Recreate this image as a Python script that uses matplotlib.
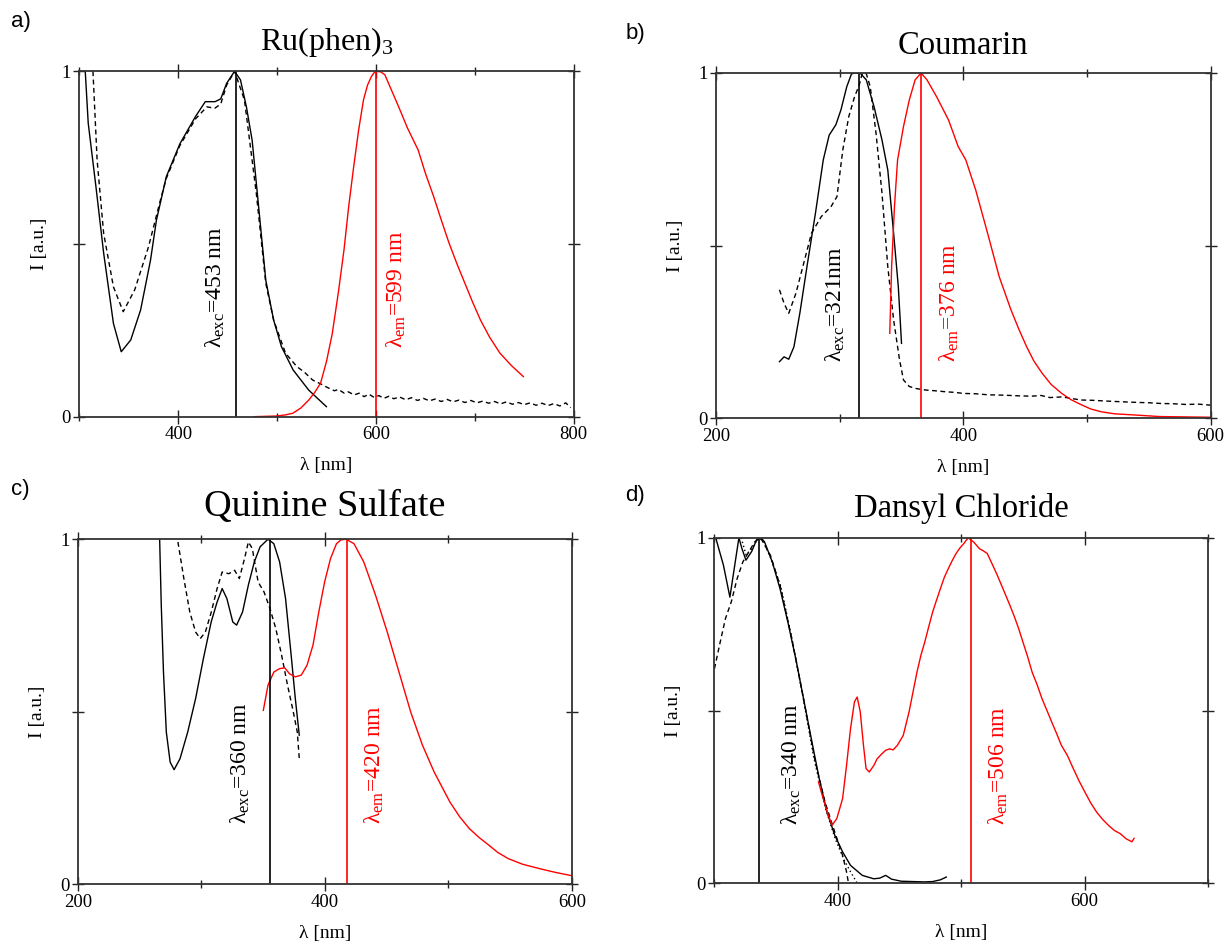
import matplotlib
matplotlib.use('Agg')
import matplotlib.pyplot as plt
from matplotlib.ticker import MultipleLocator

plt.rcParams['font.family'] = ['Liberation Serif', 'DejaVu Serif']
plt.rcParams['mathtext.fontset'] = 'custom'
plt.rcParams['mathtext.rm'] = 'Liberation Serif'
plt.rcParams['mathtext.default'] = 'regular'

# ---- a) Ru(phen)3 ----
a_exc_x = [306, 309, 316.8, 324.6, 334.5, 342.4, 352, 362, 372, 378, 388, 401.7, 417.5, 427.4,
           437.3, 443, 449, 457, 463, 469, 474.8, 480.7, 488.6, 496.5, 504.4, 516.3, 532, 549.9]
a_exc_y = [1.0, 0.85, 0.666, 0.474, 0.27, 0.188, 0.222, 0.309, 0.453, 0.569, 0.695, 0.79, 0.869, 0.912,
           0.912, 0.92, 0.965, 1.0, 0.975, 0.897, 0.80, 0.627, 0.395, 0.28, 0.203, 0.135, 0.077, 0.029]
a_abs_x = [313.8, 318, 324.6, 334.5, 344.4, 356, 370, 382, 388, 401.7, 417.5, 429, 437, 443, 449, 457,
           467, 479, 488.6, 496.5, 508.5, 520, 528, 536, 544, 552, 558, 562, 568, 572, 578, 583, 588,
           593, 598, 603, 608, 613, 618, 624, 630, 636, 642, 648, 654, 660, 666, 672, 678, 684, 690,
           696, 702, 708, 714, 720, 726, 732, 738, 744, 750, 756, 762, 768, 774, 780, 786, 792, 797]
a_abs_y = [1.0, 0.743, 0.531, 0.376, 0.304, 0.367, 0.492, 0.627, 0.69, 0.785, 0.862, 0.897, 0.893, 0.905,
           0.96, 1.0, 0.917, 0.647, 0.386, 0.28, 0.184, 0.145, 0.128, 0.106, 0.095, 0.083, 0.075, 0.079,
           0.068, 0.072, 0.063, 0.068, 0.058, 0.065, 0.056, 0.061, 0.053, 0.059, 0.052, 0.057, 0.049,
           0.055, 0.047, 0.053, 0.046, 0.051, 0.044, 0.050, 0.043, 0.048, 0.041, 0.047, 0.040, 0.045,
           0.039, 0.044, 0.037, 0.043, 0.036, 0.041, 0.035, 0.040, 0.033, 0.039, 0.032, 0.038, 0.031,
           0.040, 0.026]
a_em_x = [476.8, 500, 508, 516, 524, 532, 538, 544, 550, 555.8, 562, 567.7, 572.5, 577.5, 582.5, 587.4,
          591.5, 595.4, 598.5, 601.3, 605, 609, 615, 623, 632, 642.7, 650, 658.4, 666, 674, 682, 690,
          698, 705.7, 715, 725.4, 737, 749.1]
a_em_y = [0.0, 0.002, 0.005, 0.01, 0.025, 0.048, 0.07, 0.097, 0.16, 0.24, 0.36, 0.483, 0.61, 0.724,
          0.83, 0.917, 0.96, 0.985, 0.997, 1.0, 0.998, 0.99, 0.95, 0.897, 0.835, 0.772, 0.705, 0.637,
          0.57, 0.502, 0.442, 0.386, 0.33, 0.28, 0.23, 0.184, 0.148, 0.116]
a_lines = [458, 600]

# ---- b) Coumarin ----
b_exc_x = [251.3, 255, 258.8, 263, 267.8, 274, 280.4, 286.7, 291.5, 296.9, 301, 305.7, 309.5, 312,
           316.7, 321.5, 327.8, 334.2, 338.9, 343.6, 347.4, 350]
b_exc_y = [0.164, 0.178, 0.171, 0.207, 0.305, 0.45, 0.594, 0.748, 0.82, 0.85, 0.893, 0.96, 0.997, 1.0,
           0.999, 0.98, 0.902, 0.806, 0.719, 0.536, 0.381, 0.217]
b_abs_x = [251.3, 255, 258.8, 264.6, 270.9, 277.2, 285.1, 293, 297.8, 302.5, 307.3, 312, 315.8, 318.3,
           321.5, 324.7, 329.4, 334.2, 338.9, 343.6, 348.4, 351.6, 356.3, 362, 369, 376, 385, 393, 400,
           410, 420, 432, 445, 455, 463, 470, 480, 488, 495, 505, 515, 527, 540, 550, 559, 570, 580,
           590, 600]
b_abs_y = [0.372, 0.333, 0.304, 0.362, 0.449, 0.536, 0.584, 0.613, 0.642, 0.777, 0.873, 0.931, 0.965, 1.0,
           0.998, 0.96, 0.825, 0.652, 0.439, 0.285, 0.169, 0.111, 0.092, 0.086, 0.082, 0.08, 0.077,
           0.075, 0.072, 0.071, 0.068, 0.067, 0.065, 0.064, 0.066, 0.060, 0.062, 0.057, 0.053, 0.052,
           0.050, 0.048, 0.046, 0.045, 0.043, 0.042, 0.040, 0.041, 0.038]
b_em_x = [340.5, 342, 344.3, 346.8, 351.6, 356.3, 361, 365.8, 370.6, 378.4, 388, 395.8, 402, 410,
          419.6, 429, 438.5, 445, 451.2, 457, 463.8, 471, 479.6, 487, 495.5, 503, 511.3, 522, 536.5,
          558.7, 580, 600]
b_em_y = [0.246, 0.439, 0.613, 0.748, 0.845, 0.922, 0.98, 1.0, 0.98, 0.931, 0.864, 0.787, 0.748, 0.661,
          0.536, 0.41, 0.314, 0.257, 0.207, 0.166, 0.13, 0.098, 0.072, 0.054, 0.039, 0.027, 0.019,
          0.013, 0.01, 0.005, 0.004, 0.003]
b_lines = [315.6, 365.7]

# ---- c) Quinine Sulfate ----
c_exc_x = [266.3, 267.6, 269.4, 271.7, 274.8, 278, 282.8, 289, 295.4, 301.7, 308, 312.8, 316.9, 320.7,
           325.5, 328.6, 333.4, 338.1, 342.9, 347.6, 354, 358.7, 363.4, 368.2, 373, 376.1, 379.3]
c_exc_y = [1.0, 0.81, 0.615, 0.441, 0.354, 0.332, 0.364, 0.441, 0.538, 0.654, 0.76, 0.818, 0.857, 0.828,
           0.76, 0.751, 0.789, 0.867, 0.934, 0.978, 1.0, 0.987, 0.934, 0.828, 0.654, 0.538, 0.432]
c_abs_x = [281.1, 285.9, 290.7, 295.4, 299.2, 303.3, 308.1, 312.8, 316.9, 322.3, 327, 330.8, 335,
           338.1, 341.3, 346, 350.8, 355.6, 360.3, 365, 369.8, 374.5, 377.7, 379.3]
c_abs_y = [0.992, 0.886, 0.789, 0.731, 0.712, 0.731, 0.789, 0.857, 0.905, 0.9, 0.91, 0.886, 0.944,
           0.992, 0.973, 0.876, 0.847, 0.799, 0.741, 0.664, 0.577, 0.499, 0.441, 0.364]
c_em_x = [350.2, 354, 358.7, 363.4, 367.6, 371.4, 376.1, 380.9, 385.6, 390.4, 395.1, 399.8, 404.6,
          409.4, 413, 417.2, 423.6, 431.5, 441, 450.5, 460, 469.5, 479, 488.5, 501.1, 509, 517, 525,
          532.8, 540, 548.6, 560, 574, 587, 600.9]
c_em_y = [0.504, 0.577, 0.615, 0.625, 0.627, 0.61, 0.601, 0.606, 0.635, 0.693, 0.789, 0.876, 0.944,
          0.987, 0.998, 1.0, 0.987, 0.934, 0.838, 0.731, 0.615, 0.499, 0.403, 0.325, 0.239, 0.196,
          0.161, 0.135, 0.113, 0.092, 0.074, 0.058, 0.045, 0.034, 0.024]
c_lines = [355.6, 418.2]

# ---- d) Dansyl Chloride ----
d_exc_x = [301.4, 307.7, 312.9, 320.2, 322.5, 325.9, 330.5, 334.5, 338, 340.9, 347.2, 353.5, 359.8,
           366.2, 372.5, 378.8, 385.2, 391.5, 397.8, 404.1, 410.5, 420, 429.4, 434.2, 439, 443.7,
           451.6, 470.6, 476.9, 483.2, 488]
d_exc_y = [1.0, 0.92, 0.828, 1.0, 0.97, 0.935, 0.96, 0.994, 1.0, 0.988, 0.93, 0.852, 0.756, 0.65,
           0.534, 0.418, 0.303, 0.206, 0.139, 0.091, 0.052, 0.023, 0.013, 0.015, 0.023, 0.012, 0.006,
           0.004, 0.005, 0.01, 0.018]
d_abs_x = [300.4, 304.5, 309.3, 314, 318.7, 323.4, 328.2, 333, 337.7, 345.7, 353.5, 363, 372.5, 382,
           389.9, 397.8, 404.1, 407.3, 408.9]
d_abs_y = [0.621, 0.689, 0.766, 0.814, 0.881, 0.93, 0.959, 0.988, 1.0, 0.949, 0.862, 0.708, 0.534,
           0.351, 0.235, 0.148, 0.081, 0.033, 0.0]
d_dot_x = [322, 326, 331, 336, 340, 346, 354, 363, 372, 381, 390, 398, 405, 411, 416]
d_dot_y = [1.0, 0.95, 0.97, 1.0, 0.99, 0.94, 0.86, 0.71, 0.54, 0.36, 0.22, 0.13, 0.07, 0.03, 0.0]
d_em_x = [384.6, 388.4, 392.5, 395.6, 399.4, 404.1, 407.3, 410.5, 413.7, 415.9, 418.4, 421, 423.1,
          425.7, 429.4, 432, 435.7, 439, 442.1, 445, 448.4, 453.2, 457.9, 461, 464.3, 467.5, 470.6,
          474, 477, 480, 483.2, 486.5, 489.6, 493, 495.9, 499, 502.2, 504, 506, 508, 510.1, 512.5,
          514.9, 518, 521.2, 525, 529.1, 533, 537, 540, 543.3, 546.5, 549.6, 553.5, 557.5, 561.5,
          565.5, 569.5, 573.3, 577, 581.2, 586, 590.8, 595.5, 600.2, 605, 609.7, 614.5, 619.2, 624,
          628.7, 633.5, 638.2, 640]
d_em_y = [0.293, 0.245, 0.197, 0.168, 0.187, 0.245, 0.341, 0.447, 0.525, 0.539, 0.496, 0.399, 0.332,
          0.322, 0.341, 0.36, 0.374, 0.385, 0.389, 0.386, 0.399, 0.428, 0.496, 0.552, 0.611, 0.66,
          0.698, 0.745, 0.785, 0.818, 0.852, 0.886, 0.91, 0.935, 0.954, 0.97, 0.983, 0.992, 1.0, 0.993,
          0.988, 0.978, 0.968, 0.962, 0.954, 0.925, 0.893, 0.86, 0.826, 0.8, 0.77, 0.738, 0.703,
          0.66, 0.611, 0.575, 0.534, 0.5, 0.467, 0.436, 0.399, 0.37, 0.332, 0.296, 0.264, 0.232,
          0.206, 0.185, 0.168, 0.153, 0.144, 0.129, 0.12, 0.13]
d_lines = [336.1, 507.8]

panels = [
    dict(tag='a)', title='Ru(phen)$_3$', tsize=23, tpad=15, pos=[0.0648, 0.5586, 0.4039, 0.3659],
         xlim=(300, 800), xmaj=200, exc=(a_exc_x, a_exc_y), abs=(a_abs_x, a_abs_y), dot=None,
         em=(a_em_x, a_em_y), lines=a_lines, exc_lbl='λ$_{exc}$=453 nm', em_lbl='λ$_{em}$=599 nm',
         exc_tx=449, exc_ha='right', em_tx=609, ty=0.2, tagpos=(0.009, 0.977)),
    dict(tag='b)', title='Coumarin', tsize=23.5, tpad=14, pos=[0.585, 0.5569, 0.4041, 0.3658],
         xlim=(200, 600), xmaj=200, exc=(b_exc_x, b_exc_y), abs=(b_abs_x, b_abs_y), dot=None,
         em=(b_em_x, b_em_y), lines=b_lines, exc_lbl='λ$_{exc}$=321nm', em_lbl='λ$_{em}$=376 nm',
         exc_tx=306, exc_ha='right', em_tx=379, ty=0.163, tagpos=(0.511, 0.964)),
    dict(tag='c)', title='Quinine Sulfate', tsize=27.5, tpad=17, pos=[0.0635, 0.0633, 0.4038, 0.3655],
         xlim=(200, 600), xmaj=200, exc=(c_exc_x, c_exc_y), abs=(c_abs_x, c_abs_y), dot=None,
         em=(c_em_x, c_em_y), lines=c_lines, exc_lbl='λ$_{exc}$=360 nm', em_lbl='λ$_{em}$=420 nm',
         exc_tx=341, exc_ha='right', em_tx=431, ty=0.175, tagpos=(0.009, 0.481)),
    dict(tag='d)', title='Dansyl Chloride', tsize=23.5, tpad=15, pos=[0.5833, 0.0643, 0.4038, 0.3661],
         xlim=(300, 700), xmaj=200, exc=(d_exc_x, d_exc_y), abs=(d_abs_x, d_abs_y),
         dot=(d_dot_x, d_dot_y), em=(d_em_x, d_em_y), lines=d_lines, exc_lbl='λ$_{exc}$=340 nm',
         em_lbl='λ$_{em}$=506 nm', exc_tx=353, exc_ha='left', em_tx=521, ty=0.169,
         tagpos=(0.511, 0.475)),
]

fig = plt.figure(figsize=(12.24, 9.44), dpi=100)

for p in panels:
    ax = fig.add_axes(p['pos'])
    ax.plot(*p['exc'], color='black', lw=1.0)
    ax.plot(*p['abs'], color='black', lw=1.0, ls=(0, (3.5, 2.5)))
    if p['dot'] is not None:
        ax.plot(*p['dot'], color='black', lw=1.0, ls=(0, (1, 2)))
    ax.plot(*p['em'], color='red', lw=1.0)
    ax.plot([p['lines'][0]] * 2, [0, 1], color='black', lw=1.2)
    ax.plot([p['lines'][1]] * 2, [0.0, 1], color='red', lw=1.2)

    ax.text(p['exc_tx'], p['ty'], p['exc_lbl'], rotation=90, ha=p['exc_ha'], va='bottom',
            fontsize=17, color='black')
    ax.text(p['em_tx'], p['ty'], p['em_lbl'], rotation=90, ha='left', va='bottom',
            fontsize=17, color='red')

    ax.set_xlim(*p['xlim'])
    ax.set_ylim(0, 1)
    ax.xaxis.set_major_locator(MultipleLocator(p['xmaj']))
    ax.xaxis.set_minor_locator(MultipleLocator(100))
    ax.set_yticks([0, 0.5, 1])
    ax.set_yticklabels(['0', '', '1'])
    ax.tick_params(which='both', direction='inout', top=True, right=True, labelsize=13.5,
                   width=1.0, color='#222222')
    ax.tick_params(which='major', length=10, pad=2)
    ax.tick_params(which='minor', length=6)
    ax.tick_params(axis='y', which='major', length=8, pad=2)
    for s in ax.spines.values():
        s.set_linewidth(1.3)
        s.set_color('#333333')

    ax.set_xlabel('λ [nm]', fontsize=14, labelpad=10)
    ax.set_ylabel('I [a.u.]', fontsize=14, labelpad=10)
    ax.set_title(p['title'], fontsize=p['tsize'], pad=p['tpad'])
    fig.text(p['tagpos'][0], p['tagpos'][1], p['tag'], fontsize=16, family='Liberation Sans',
             va='center', ha='left')

fig.savefig('out.png', dpi=100)
